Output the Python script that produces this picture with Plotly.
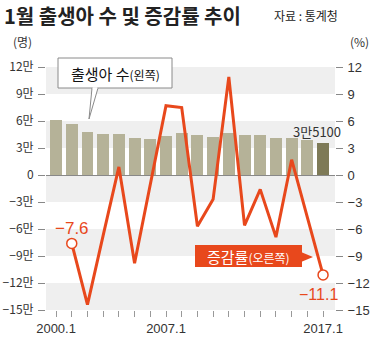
import plotly.graph_objects as go

# ---------------- data ----------------
years = list(range(2000, 2018))
births = [61100, 56300, 48100, 45200, 45600, 40700, 40000, 43300, 46300,
          44100, 42600, 47000, 44800, 44100, 40700, 41500, 38900, 35100]
rate_years = list(range(2001, 2018))
rates = [-7.6, -14.4, -6.7, 0.9, -9.8, -1.0, 7.7, 7.5, -5.7, -2.7, 10.9,
         -5.6, -1.6, -6.9, 1.7, -4.7, -11.1]
x_label_years = [2000, 2007, 2017]
left_ticks = [120000, 90000, 60000, 30000, 0, -30000, -60000, -90000, -120000, -150000]
right_ticks = [12, 9, 6, 3, 0, -3, -6, -9, -12, -15]

# ---------------- styling ----------------
W, H = 370, 339
L, R, T, B = 46, 35, 67, 29
PW, PH = W - L - R, H - T - B
ORANGE = "#e8481c"
BAR = "#b5b298"
BAR_LAST = "#7e7a57"
BAND = "#efefef"
FONT = "Noto Sans CJK KR"


def px(x):
    return (x - L) / PW


def py(y):
    return (H - B - y) / PH


def minus(s):
    return s.replace("-", "\u2212")


def man(v):
    if v == 0:
        return "0"
    return minus(f"{'-' if v < 0 else ''}{abs(v) // 10000}만")


xi = {y: i for i, y in enumerate(years)}
bar_x = [xi[y] for y in years]
line_x = [xi[y] for y in rate_years]
bar_colors = [BAR] * (len(years) - 1) + [BAR_LAST]

fig = go.Figure()
fig.add_trace(go.Bar(x=bar_x, y=births, marker=dict(color=bar_colors, line=dict(width=0)),
                     width=0.76, yaxis="y", hoverinfo="skip"))
fig.add_trace(go.Scatter(x=line_x, y=rates, mode="lines", yaxis="y2",
                         line=dict(color=ORANGE, width=3), hoverinfo="skip"))
fig.add_trace(go.Scatter(x=[line_x[0], line_x[-1]], y=[rates[0], rates[-1]], mode="markers",
                         yaxis="y2", marker=dict(size=10, color="white",
                                                 line=dict(color=ORANGE, width=1.5)),
                         hoverinfo="skip"))

shapes = []
# alternating background bands
for k in range(0, len(right_ticks) - 1, 2):
    shapes.append(dict(type="rect", xref="paper", yref="y2", x0=0, x1=1,
                       y0=right_ticks[k + 1], y1=right_ticks[k],
                       fillcolor=BAND, line=dict(width=0), layer="below"))

# left callout box
shapes.append(dict(type="rect", xref="paper", yref="paper", x0=px(58), x1=px(172),
                   y0=py(88), y1=py(58), fillcolor="white",
                   line=dict(color="#8a8a8a", width=1)))
shapes.append(dict(type="path", xref="paper", yref="paper",
                   path=f"M {px(92)},{py(88)} L {px(89)},{py(119)} L {px(98)},{py(88)}",
                   fillcolor="white", line=dict(color="#8a8a8a", width=1)))
shapes.append(dict(type="line", xref="paper", yref="paper", x0=px(92.7), x1=px(97.3),
                   y0=py(88), y1=py(88), line=dict(color="white", width=1.5)))
# right orange label box
shapes.append(dict(type="rect", xref="paper", yref="paper", x0=px(195), x1=px(302),
                   y0=py(267), y1=py(245), fillcolor=ORANGE, line=dict(width=0)))
shapes.append(dict(type="path", xref="paper", yref="paper",
                   path=f"M {px(301)},{py(252)} L {px(313)},{py(257)} L {px(301)},{py(262)} Z",
                   fillcolor=ORANGE, line=dict(width=0)))

annotations = [
    dict(text="<b>1월 출생아 수 및 증감률 추이</b>", x=px(2), y=py(15), xanchor="left",
         yanchor="middle", font=dict(size=20, color="#222", family=FONT)),
    dict(text="자료 : 통계청", x=px(272), y=py(16), xanchor="left", yanchor="middle",
         font=dict(size=12, color="#222", family=FONT)),
    dict(text="(명)", x=px(22), y=py(41), xanchor="center", yanchor="middle",
         font=dict(size=12, color="#333", family=FONT)),
    dict(text="(%)", x=px(359), y=py(41), xanchor="center", yanchor="middle",
         font=dict(size=12, color="#333", family=FONT)),
    dict(text="출생아 수<span style='font-size:12px'>(왼쪽)</span>", x=px(115), y=py(73),
         xanchor="center", yanchor="middle", font=dict(size=15, color="#111", family=FONT)),
    dict(text="증감률<span style='font-size:12px'>(오른쪽)</span>", x=px(248), y=py(256),
         xanchor="center", yanchor="middle", font=dict(size=15, color="white", family=FONT)),
    dict(text=minus(f"{rates[0]}"), x=line_x[0], y=rates[0], xref="x", yref="y2",
         showarrow=False, yshift=15, xshift=0,
         font=dict(size=17, color=ORANGE, family="Liberation Sans")),
    dict(text=minus(f"{rates[-1]}"), x=line_x[-1], y=rates[-1], xref="x", yref="y2",
         showarrow=False, yshift=-20, xshift=-5,
         font=dict(size=16, color=ORANGE, family="Liberation Sans")),
    dict(text=f"{births[-1] // 10000}만{births[-1] % 10000}", x=bar_x[-1], y=births[-1],
         xref="x", yref="y", showarrow=False, yshift=12, xshift=-6,
         font=dict(size=13, color="#333", family=FONT)),
]
for a in annotations:
    a.setdefault("xref", "paper")
    a.setdefault("yref", "paper")
    a.setdefault("showarrow", False)

fig.update_layout(
    width=W, height=H, margin=dict(l=L, r=R, t=T, b=B, autoexpand=False),
    paper_bgcolor="white", plot_bgcolor="white", showlegend=False,
    font=dict(family=FONT, color="#333"),
    shapes=shapes, annotations=annotations,
    xaxis=dict(range=[-0.64, 17.76], tickmode="array", tickvals=bar_x,
               ticktext=[f"{y}.1" if y in x_label_years else "" for y in years],
               ticks="outside", ticklen=6, tickcolor="#999", tickwidth=1,
               showgrid=False, zeroline=False, showline=False, automargin=False,
               tickfont=dict(size=13, color="#333", family="Liberation Sans")),
    yaxis=dict(range=[left_ticks[-1], left_ticks[0]], tickmode="array", tickvals=left_ticks,
               ticktext=[man(v) for v in left_ticks], ticks="outside", ticklen=7,
               tickcolor="#888", showgrid=False, zeroline=True, zerolinecolor="#888",
               zerolinewidth=1, showline=False, ticklabelstandoff=2, automargin=False,
               tickfont=dict(size=12, color="#333", family=FONT)),
    yaxis2=dict(range=[right_ticks[-1], right_ticks[0]], overlaying="y", side="right",
                tickmode="array", tickvals=right_ticks,
                ticktext=[minus(str(v)) for v in right_ticks], ticks="outside",
                ticklen=7, tickcolor="#888", showgrid=False, zeroline=False,
                showline=False, ticklabelstandoff=2, automargin=False,
                tickfont=dict(size=13, color="#333", family="Liberation Sans")),
    bargap=0,
)

fig.write_html("out.html")
